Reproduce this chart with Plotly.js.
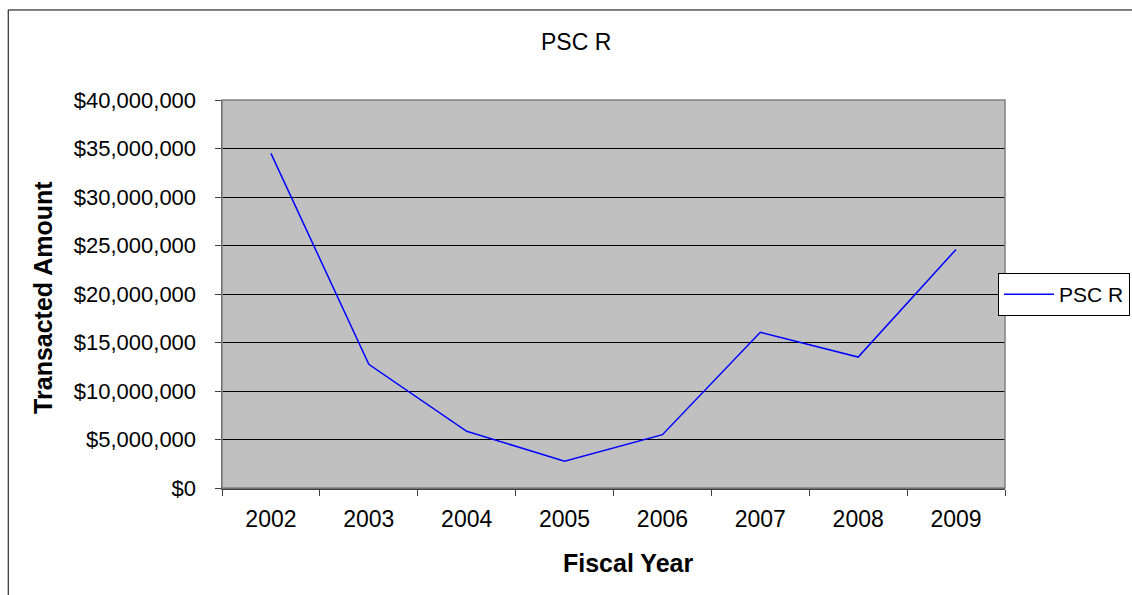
<!DOCTYPE html>
<html>
<head>
<meta charset="utf-8">
<script src="https://cdn.plot.ly/plotly-3.0.1.min.js"></script>
<style>html,body{margin:0;padding:0;background:#fff;}#chart{width:1132px;height:595px;}</style>
</head>
<body>
<div id="chart"></div>
<script>
const years = ["2002", "2003", "2004", "2005", "2006", "2007", "2008", "2009"];
const pscR = [34500000, 12750000, 5850000, 2770000, 5500000, 16050000, 13500000, 24600000];
const yTicks = [0, 5000000, 10000000, 15000000, 20000000, 25000000, 30000000, 35000000, 40000000];
const yTickText = ["$0", "$5,000,000", "$10,000,000", "$15,000,000", "$20,000,000", "$25,000,000", "$30,000,000", "$35,000,000", "$40,000,000"];

const font = "'Liberation Sans', Arial, sans-serif";

const trace = {
  x: years,
  y: pscR,
  type: "scatter",
  mode: "lines",
  name: "PSC R",
  line: {color: "#0000FF", width: 1.5}
};

const layout = {
  width: 1132,
  height: 595,
  margin: {l: 222, r: 127, t: 100, b: 107, autoexpand: false},
  paper_bgcolor: "#ffffff",
  plot_bgcolor: "#C0C0C0",
  font: {family: font, color: "#000"},
  title: {text: "PSC R", font: {family: font, size: 23, color: "#000"}, x: 0.509, xanchor: "center", y: 0.930, yanchor: "middle"},
  xaxis: {
    type: "category",
    range: [-0.5, 7.5],
    tickson: "boundaries",
    ticks: "outside",
    ticklen: 6,
    tickcolor: "#404040",
    showgrid: false,
    showline: true,
    linecolor: "#404040",
    linewidth: 1.5,
    tickfont: {family: font, size: 23},
    ticklabelstandoff: 10,
    automargin: false,
    fixedrange: true
  },
  yaxis: {
    range: [0, 40000000],
    tickmode: "array",
    tickvals: yTicks,
    ticktext: yTickText,
    ticks: "outside",
    ticklen: 6,
    tickcolor: "#404040",
    showgrid: true,
    gridcolor: "#000000",
    gridwidth: 1,
    zeroline: false,
    showline: true,
    linecolor: "#404040",
    linewidth: 1.5,
    tickfont: {family: font, size: 22},
    ticklabelstandoff: 14,
    automargin: false,
    fixedrange: true
  },
  showlegend: true,
  legend: {
    xref: "container", yref: "container",
    x: 0.8816, xanchor: "left",
    y: 0.505, yanchor: "middle",
    bgcolor: "#ffffff",
    bordercolor: "#000000",
    borderwidth: 1,
    itemwidth: 50,
    font: {family: font, size: 21}
  },
  annotations: [
    {text: "Fiscal Year", xref: "paper", yref: "paper", x: 0.5185, y: -0.193, xanchor: "center", yanchor: "middle", showarrow: false, font: {family: font, size: 25, weight: "bold"}},
    {text: "Transacted Amount", xref: "paper", yref: "paper", x: -0.2286, y: 0.49, xanchor: "center", yanchor: "middle", textangle: -90, showarrow: false, font: {family: font, size: 25, weight: "bold"}}
  ],
  shapes: [
    {type: "rect", xref: "paper", yref: "paper", x0: 0, x1: 1, y0: 0, y1: 1, line: {color: "#808080", width: 1.5}, fillcolor: "rgba(0,0,0,0)"},
    {type: "line", xref: "paper", yref: "paper", x0: -0.273, x1: 1.3, y0: 1.232, y1: 1.232, line: {color: "#000", width: 1}},
    {type: "line", xref: "paper", yref: "paper", x0: -0.273, x1: -0.273, y0: 1.232, y1: -0.3, line: {color: "#000", width: 1}}
  ]
};

Plotly.newPlot("chart", [trace], layout, {displayModeBar: false, staticPlot: true});
</script>
</body>
</html>
